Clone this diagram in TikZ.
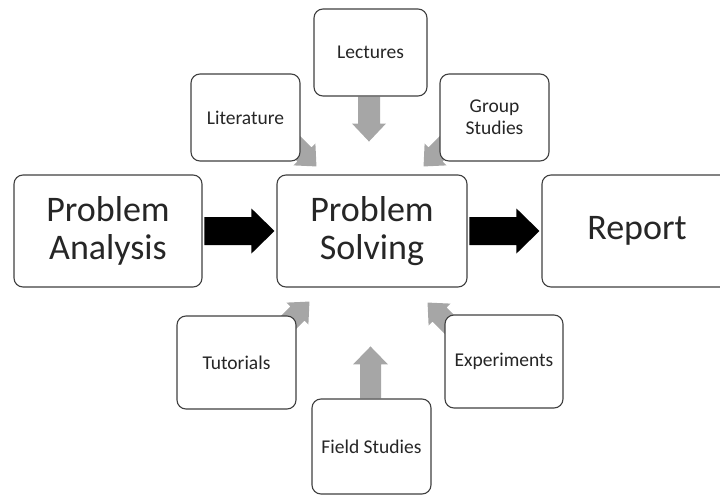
\documentclass[tikz,border=0pt]{standalone}
\usepackage{fontspec}
\setmainfont{Carlito}
\usetikzlibrary{calc,backgrounds}

\definecolor{boxline}{HTML}{404040}
\definecolor{boxtext}{HTML}{262626}
\definecolor{feedgray}{HTML}{A6A6A6}

% block arrow: style, tip, direction (canvas degrees), length,
% shaft half-width, head half-width, head length
\newcommand\blockarrow[7]{%
  \begin{scope}[shift={(#2)},rotate=#3]
    \fill[#1] (0,0) -- (-#7,#6) -- (-#7,#5) -- (-#4,#5) -- (-#4,-#5)
      -- (-#7,-#5) -- (-#7,-#6) -- cycle;
  \end{scope}}

\tikzset{
  card/.style={draw=boxline, line width=1.1pt, rounded corners=9pt, fill=white,
    inner sep=0pt, align=center, text=boxtext},
  bigcard/.style={card, minimum height=112pt,
    font=\fontsize{36}{38}\selectfont},
  smallcard/.style={card, font=\fontsize{19.5}{22}\selectfont},
  mainflow/.style={fill=black},
  feed/.style={fill=feedgray},
}

\begin{document}
\begin{tikzpicture}[x=1pt,y=-1pt]
  \useasboundingbox (0,0) rectangle (720,495);
  \clip (0,0) rectangle (720,495);

  % main row
  \node[bigcard, minimum width=188pt] (pa) at (108,231) {Problem\\Analysis};
  \node[bigcard, minimum width=190pt] (ps) at (372,231) {Problem\\Solving};
  \node[bigcard, minimum width=190pt] (rep) at (637,231) {Report};

  % inputs around the centre
  \node[smallcard, minimum width=113pt, minimum height=87pt] (lec) at (370.5,52.5) {Lectures};
  \node[smallcard, minimum width=109pt, minimum height=87pt] (lit) at (245.5,117.5) {Literature};
  \node[smallcard, minimum width=109pt, minimum height=87pt] (grp) at (494.5,117.5) {Group\\Studies};
  \node[smallcard, minimum width=119pt, minimum height=93pt] (tut) at (236.5,362.5) {Tutorials};
  \node[smallcard, minimum width=118pt, minimum height=93pt] (exp) at (504,361.5) {Experiments};
  \node[smallcard, minimum width=119pt, minimum height=95pt] (fs) at (371.5,446.5) {Field Studies};

  \begin{scope}[on background layer]
    % main flow
    \blockarrow{mainflow}{$(ps.west)+(-2,0)$}{0}{70}{14}{22.5}{23}
    \blockarrow{mainflow}{$(rep.west)+(-2,0)$}{0}{70}{14}{22.5}{23}
    % feeds into problem solving
    \blockarrow{feed}{$(lec.south)+(-1.5,45)$}{-90}{45}{11}{17}{18}
    \blockarrow{feed}{$(fs.north)+(-1,-52)$}{90}{52}{10.5}{17.5}{18}
    \blockarrow{feed}{$(ps.north west)+(40,-8)$}{-45}{42}{10}{15.5}{17}
    \blockarrow{feed}{$(ps.north east)+(-44,-8)$}{-135}{42}{10}{15.5}{17}
    \blockarrow{feed}{$(ps.south west)+(33,14)$}{45}{42}{10}{15.5}{17}
    \blockarrow{feed}{$(ps.south east)+(-40,15)$}{135}{42}{10}{15.5}{17}
  \end{scope}
\end{tikzpicture}
\end{document}
